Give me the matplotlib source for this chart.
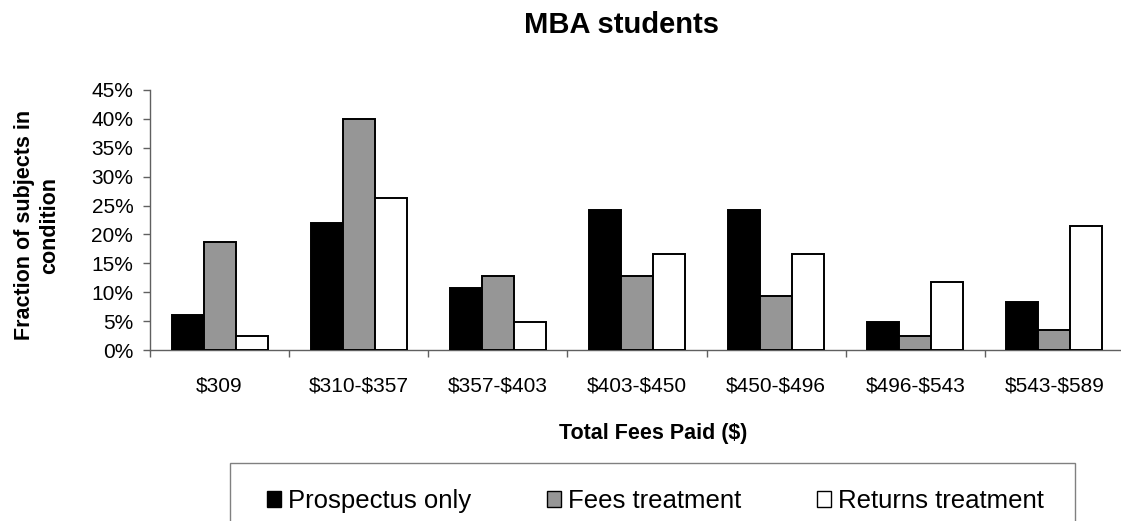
import matplotlib
matplotlib.use("Agg")
import matplotlib.pyplot as plt
from matplotlib.patches import Patch, Rectangle
from matplotlib.ticker import FuncFormatter, MultipleLocator
import numpy as np

plt.rcParams['font.family'] = ['Liberation Sans', 'DejaVu Sans']
plt.rcParams['text.parse_math'] = False

categories = ["$309", "$310-$357", "$357-$403", "$403-$450", "$450-$496", "$496-$543", "$543-$589"]
series_names = ["Prospectus only", "Fees treatment", "Returns treatment"]
prospectus = [6.0, 21.9, 10.8, 24.3, 24.3, 4.9, 8.3]
fees = [18.7, 40.0, 12.8, 12.8, 9.3, 2.4, 3.4]
returns = [2.4, 26.3, 4.8, 16.6, 16.6, 11.7, 21.4]
colors = ["#000000", "#969696", "#ffffff"]

W, H = 1121, 521
fig = plt.figure(figsize=(W / 100, H / 100), dpi=100)
ax = fig.add_axes([150 / W, 1 - 350 / H, 974 / W, 260 / H])

x = np.arange(len(categories))
bw = 0.23
for k, (vals, c) in enumerate(zip([prospectus, fees, returns], colors)):
    ax.bar(x + (k - 1) * bw, np.array(vals) / 100, width=bw, color=c,
           edgecolor="black", linewidth=1.4, zorder=3)

ax.set_xlim(-0.5, len(categories) - 0.5)
ax.set_ylim(0, 0.45)
ax.yaxis.set_major_locator(MultipleLocator(0.05))
ax.yaxis.set_major_formatter(FuncFormatter(lambda v, p: f"{v*100:.0f}%"))
ax.set_xticks(np.arange(len(categories) + 1) - 0.5)
ax.set_xticklabels([])
ax.set_xticks(x, minor=True)
ax.set_xticklabels(categories, minor=True)
ax.tick_params(axis='x', which='minor', length=0, pad=19, labelsize=15)
ax.tick_params(axis='x', which='major', length=5, width=1, color='#606060', direction='out')
ax.tick_params(axis='y', length=5, width=1, color='#606060', direction='out', pad=7, labelsize=15)

for s in ['top', 'right']:
    ax.spines[s].set_visible(False)
for s in ['left', 'bottom']:
    ax.spines[s].set_color('#606060')
    ax.spines[s].set_linewidth(1)

fig.text(622 / W, 1 - 25 / H, "MBA students", ha='center', va='center',
         fontsize=21, fontweight='bold')
fig.text(37 / W, 1 - 225 / H, "Fraction of subjects in\ncondition", rotation=90,
         ha='center', va='center', multialignment='center', fontsize=15.5,
         fontweight='bold', linespacing=1.25)
fig.text(653 / W, 1 - 434 / H, "Total Fees Paid ($)", ha='center', va='center',
         fontsize=15.5, fontweight='bold')

# legend frame (extends beyond the bottom edge like the reference)
frame = Rectangle((230 / W, 1 - 545 / H), (1075 - 230) / W, (545 - 463) / H,
                  transform=fig.transFigure, facecolor='none', edgecolor='#808080',
                  linewidth=1, clip_on=False)
fig.add_artist(frame)
handles = [Patch(facecolor=c, edgecolor='black', linewidth=1) for c in colors]
fig.legend(handles, series_names, loc='center left',
           bbox_to_anchor=(267 / W, 1 - 501 / H), ncol=3, frameon=False,
           fontsize=18.5, handlelength=0.55, handleheight=0.58, handletextpad=0.27,
           columnspacing=2.95, borderpad=0, borderaxespad=0)

fig.savefig("out.png", dpi=100)
